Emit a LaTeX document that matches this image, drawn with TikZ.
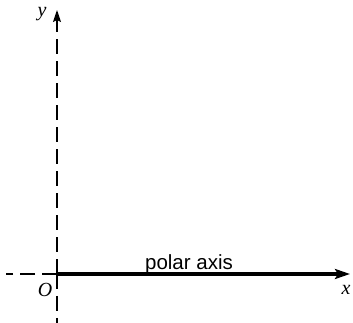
\documentclass[tikz,border=0pt]{standalone}
\usepackage{fontspec}
\setmainfont{Liberation Serif}
\setsansfont{Liberation Sans}
\usetikzlibrary{arrows.meta}
\tikzset{
  % Dashed reference line
  refline/.style={
    dash pattern=on 15pt off 7pt, line width=1.5pt
  },
  % Solid polar axis
  polarline/.style={
    line width=3.2pt,
    -{Stealth[length=15pt,width=10pt,inset=3pt]}
  },
  % Italic axis letter
  axlbl/.style={font=\fontsize{20}{20}\selectfont\itshape, inner sep=0pt},
  % Text label
  txtlbl/.style={font=\sffamily\fontsize{20.5}{20.5}\selectfont, inner sep=0pt}
}

\begin{document}
\begin{tikzpicture}[x=1pt, y=1pt]
  \useasboundingbox (0,0) rectangle (353,323);

  % Axis ends
  \coordinate (O)    at (57,49);
  \coordinate (ytop) at (57,313);
  \coordinate (ybot) at (57,0);
  \coordinate (xend) at (350,49);
  \coordinate (xlft) at (6,49);

  % Dashed lines
  \draw[refline, -{Stealth[length=12pt,width=8pt,inset=2pt]}] (O) -- (ytop);
  \draw[refline] (O) -- (ybot);
  \draw[refline] (O) -- (xlft);

  % Polar axis
  \draw[polarline] (O) -- (xend);

  % Labels
  \node[axlbl] (ylbl) at (42,309) {y};
  \node[axlbl] (xlbl) at (346,33) {x};
  \node[axlbl] (olbl) at (45,33) {O};
  \node[txtlbl, anchor=base] (plbl) at (189,53) {polar axis};

\end{tikzpicture}
\end{document}
